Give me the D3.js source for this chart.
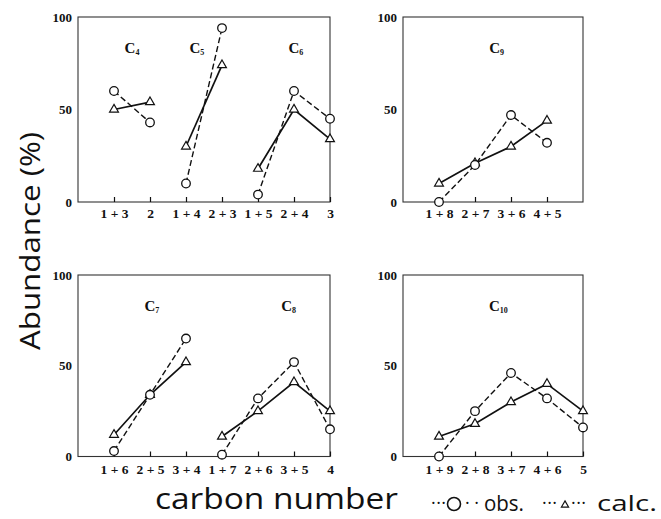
<!DOCTYPE html>
<html>
<head>
<meta charset="utf-8">
<script src="https://cdn.jsdelivr.net/npm/d3@7"></script>
<style>
  body { margin: 0; background: #fff; }
</style>
</head>
<body>
<script>
// Category labels and values (% abundance)
var c4Cats = ["1 + 3", "2"];
var c4Obs = [60, 43];
var c4Calc = [50, 54];

var c5Cats = ["1 + 4", "2 + 3"];
var c5Obs = [10, 94];
var c5Calc = [30, 74];

var c6Cats = ["1 + 5", "2 + 4", "3"];
var c6Obs = [4, 60, 45];
var c6Calc = [18, 50, 34];

var c9Cats = ["1 + 8", "2 + 7", "3 + 6", "4 + 5"];
var c9Obs = [0, 20, 47, 32];
var c9Calc = [10, 21, 30, 44];

var c7Cats = ["1 + 6", "2 + 5", "3 + 4"];
var c7Obs = [3, 34, 65];
var c7Calc = [12, 34, 52];

var c8Cats = ["1 + 7", "2 + 6", "3 + 5", "4"];
var c8Obs = [1, 32, 52, 15];
var c8Calc = [11, 25, 41, 25];

var c10Cats = ["1 + 9", "2 + 8", "3 + 7", "4 + 6", "5"];
var c10Obs = [0, 25, 46, 32, 16];
var c10Calc = [11, 18, 30, 40, 25];

var yTicks = [0, 50, 100];

// Panel layout
var panels = [
  { x0: 78, x1: 330, y0: 202, y1: 17, slots: 7, pad: 6,
    groups: [
      { sub: "4", cats: c4Cats, obs: c4Obs, calc: c4Calc, start: 1, lx: 1.5 },
      { sub: "5", cats: c5Cats, obs: c5Obs, calc: c5Calc, start: 3, lx: 3.3 },
      { sub: "6", cats: c6Cats, obs: c6Obs, calc: c6Calc, start: 5, lx: 6.05 }
    ] },
  { x0: 403, x1: 583, y0: 202, y1: 17, slots: 5, pad: 6,
    groups: [
      { sub: "9", cats: c9Cats, obs: c9Obs, calc: c9Calc, start: 1, lx: 2.6 }
    ] },
  { x0: 78, x1: 330, y0: 456.5, y1: 275, slots: 7, pad: 8,
    groups: [
      { sub: "7", cats: c7Cats, obs: c7Obs, calc: c7Calc, start: 1, lx: 2.05 },
      { sub: "8", cats: c8Cats, obs: c8Obs, calc: c8Calc, start: 4, lx: 5.85 }
    ] },
  { x0: 403, x1: 583, y0: 456.5, y1: 275, slots: 5, pad: 8,
    groups: [
      { sub: "10", cats: c10Cats, obs: c10Obs, calc: c10Calc, start: 1, lx: 2.65 }
    ] }
];

var ink = "#111";
var serif = "'Liberation Serif', 'Times New Roman', serif";
var sans = "'Open Sans', 'DejaVu Sans', sans-serif";

var svg = d3.select("body")
  .append("svg")
  .attr("width", 661)
  .attr("height", 519);

panels.forEach(function(p) {
  var x = d3.scaleLinear().domain([0, p.slots]).range([p.x0, p.x1]);
  var y = d3.scaleLinear().domain([0, 100]).range([p.y0, p.y1]);
  var g = svg.append("g");

  // frame
  g.append("rect")
    .attr("x", p.x0)
    .attr("y", p.y1)
    .attr("width", p.x1 - p.x0)
    .attr("height", p.y0 - p.y1)
    .attr("fill", "none")
    .attr("stroke", "#333")
    .attr("stroke-width", 1.1);

  // x axis: one tick per category
  var slotLabel = {};
  p.groups.forEach(function(gr) {
    gr.cats.forEach(function(c, i) { slotLabel[gr.start + i] = c; });
  });
  var slotVals = Object.keys(slotLabel).map(Number);

  var xAxis = d3.axisBottom(x)
    .tickValues(slotVals)
    .tickFormat(function(d) { return slotLabel[d]; })
    .tickSizeInner(-5)
    .tickSizeOuter(0)
    .tickPadding(p.pad);

  var xg = g.append("g")
    .attr("transform", "translate(0," + p.y0 + ")")
    .call(xAxis);
  xg.select(".domain").remove();
  xg.selectAll("line").attr("stroke", ink).attr("stroke-width", 1.2);
  xg.selectAll("text")
    .attr("fill", ink)
    .attr("font-family", serif)
    .attr("font-weight", "bold")
    .attr("font-size", "13.5px");

  // y axis
  var yAxis = d3.axisLeft(y)
    .tickValues(yTicks)
    .tickSizeInner(0)
    .tickSizeOuter(0)
    .tickPadding(6);

  var yg = g.append("g")
    .attr("transform", "translate(" + p.x0 + ",0)")
    .call(yAxis);
  yg.select(".domain").remove();
  yg.selectAll("text")
    .attr("fill", ink)
    .attr("font-family", serif)
    .attr("font-weight", "bold")
    .attr("font-size", "13px");

  p.groups.forEach(function(gr) {
    var line = d3.line()
      .x(function(d, i) { return x(gr.start + i); })
      .y(function(d) { return y(d); });

    // calc: solid
    g.append("path")
      .attr("d", line(gr.calc))
      .attr("fill", "none")
      .attr("stroke", ink)
      .attr("stroke-width", 1.7);

    // obs: dashed
    g.append("path")
      .attr("d", line(gr.obs))
      .attr("fill", "none")
      .attr("stroke", ink)
      .attr("stroke-width", 1.4)
      .attr("stroke-dasharray", "6,3");

    g.selectAll(null)
      .data(gr.calc)
      .enter()
      .append("path")
      .attr("d", d3.symbol().type(d3.symbolTriangle).size(34))
      .attr("transform", function(d, i) { return "translate(" + x(gr.start + i) + "," + y(d) + ")"; })
      .attr("fill", "#fff")
      .attr("stroke", ink)
      .attr("stroke-width", 1.2);

    g.selectAll(null)
      .data(gr.obs)
      .enter()
      .append("circle")
      .attr("cx", function(d, i) { return x(gr.start + i); })
      .attr("cy", function(d) { return y(d); })
      .attr("r", 4.3)
      .attr("fill", "#fff")
      .attr("stroke", ink)
      .attr("stroke-width", 1.3);

    // panel label C_n
    var lbl = g.append("text")
      .attr("x", x(gr.lx))
      .attr("y", y(100) + 36)
      .attr("text-anchor", "middle")
      .attr("font-family", serif)
      .attr("font-weight", "bold")
      .attr("font-size", "15px")
      .attr("fill", ink)
      .text("C");
    lbl.append("tspan")
      .attr("font-size", "8px")
      .attr("dy", 2)
      .text(gr.sub);
  });
});

// y title
svg.append("text")
  .attr("transform", "translate(40,241) rotate(-90)")
  .attr("text-anchor", "middle")
  .attr("font-family", sans)
  .attr("font-size", "28px")
  .attr("fill", ink)
  .attr("textLength", 218)
  .attr("lengthAdjust", "spacingAndGlyphs")
  .text("Abundance (%)");

// x title
svg.append("text")
  .attr("x", 155)
  .attr("y", 509)
  .attr("font-family", sans)
  .attr("font-size", "30px")
  .attr("fill", ink)
  .attr("textLength", 243)
  .attr("lengthAdjust", "spacingAndGlyphs")
  .text("carbon number");

// legend
var leg = svg.append("g").attr("font-family", sans).attr("fill", ink);
leg.append("text").attr("x", 431).attr("y", 509).attr("font-size", "18px")
  .attr("textLength", 15).text("\u00b7\u00b7\u00b7");
leg.append("circle").attr("cx", 454).attr("cy", 504).attr("r", 6.5)
  .attr("fill", "#fff").attr("stroke", ink).attr("stroke-width", 1.6);
leg.append("text").attr("x", 465).attr("y", 509).attr("font-size", "18px")
  .attr("textLength", 14).text("\u00b7\u00b7");
leg.append("text").attr("x", 484).attr("y", 511).attr("font-size", "22px")
  .attr("textLength", 40).attr("lengthAdjust", "spacingAndGlyphs").text("obs.");
leg.append("text").attr("x", 542).attr("y", 509).attr("font-size", "18px")
  .attr("textLength", 15).text("\u00b7\u00b7\u00b7");
leg.append("path")
  .attr("d", d3.symbol().type(d3.symbolTriangle).size(22))
  .attr("transform", "translate(565,505)")
  .attr("fill", "#fff").attr("stroke", ink).attr("stroke-width", 1.2);
leg.append("text").attr("x", 571).attr("y", 509).attr("font-size", "18px")
  .attr("textLength", 15).text("\u00b7\u00b7\u00b7");
leg.append("text").attr("x", 597).attr("y", 511).attr("font-size", "22px")
  .attr("textLength", 60).attr("lengthAdjust", "spacingAndGlyphs").text("calc.");
</script>
</body>
</html>
